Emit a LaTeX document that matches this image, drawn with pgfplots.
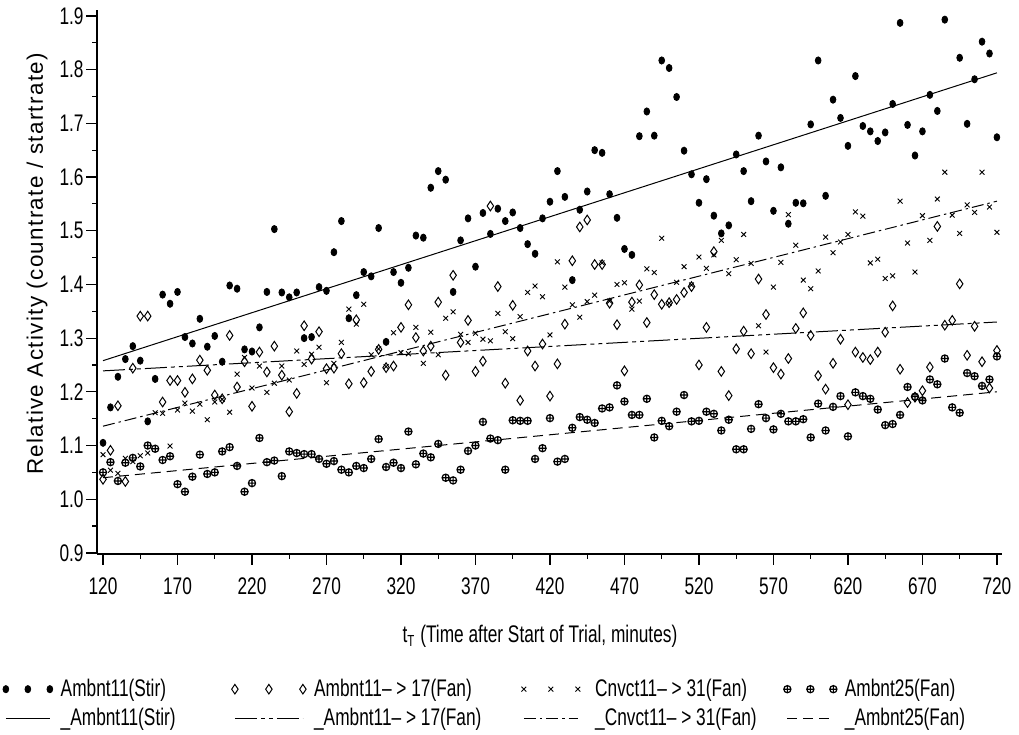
\documentclass[border=0pt]{standalone}
\usepackage{fontspec}
\setmainfont{Liberation Sans}[FakeStretch=0.72]
\newfontfamily\ylabfont{Liberation Sans}[LetterSpace=6]
\usepackage{pgfplots}
\pgfplotsset{compat=1.18}
\pgfplotsset{
  legmarks/.style={legend image code/.code={\draw[##1] plot[mark repeat=1] coordinates {(0pt,0pt) (#1/2,0pt) (#1,0pt)};}},
  legline/.style={legend image code/.code={\draw[##1] (0pt,0pt) -- (#1,0pt);}},
}
\begin{document}
\begin{tikzpicture}
\begin{axis}[
  scale only axis, width=452.5pt, height=272pt,
  xmin=115.97, xmax=723.4, ymin=0.898, ymax=1.911,
  axis lines=left, axis line style={-, line width=0.6pt},
  tick align=outside, tick style={black, line width=0.6pt},
  major tick length=5.5pt, minor tick length=2.5pt,
  xtick={120,170,...,720}, ytick={0.9,1,1.1,1.2,1.3,1.4,1.5,1.6,1.7,1.8,1.9},
  minor x tick num=1, minor y tick num=1,
  ticklabel style={font=\fontsize{12}{14}\selectfont},
  /pgf/number format/assume math mode=true,
  yticklabel style={/pgf/number format/.cd, fixed, fixed zerofill, precision=1, /tikz/.cd, inner xsep=1pt},
  xticklabel style={yshift=-3pt},
  xlabel={t\textsubscript{T} (Time after Start of Trial, minutes)},
  xlabel style={at={(rel axis cs:0.4895,-0.152)}, anchor=center, font=\fontsize{12}{14}\selectfont},
  ylabel={\ylabfont Relative Activity (countrate / startrate)},
  ylabel style={at={(rel axis cs:-0.0663,0.533)}, anchor=center, font=\fontsize{11.2}{13}\selectfont},
  legend columns=4,
  legend cell align=left,
  legend style={at={(rel axis cs:-0.1039,-0.2261)}, anchor=north west, draw=none, fill=none,
    inner sep=0pt, outer sep=0pt, font=\fontsize{12}{14}\selectfont,
    nodes={inner sep=1pt}, /tikz/row sep=2.5pt,
    /tikz/column 1/.style={column sep=3pt},
    /tikz/column 2/.style={column sep=27pt},
    /tikz/column 3/.style={column sep=3pt},
    /tikz/column 4/.style={column sep=19pt},
    /tikz/column 5/.style={column sep=6.5pt},
    /tikz/column 6/.style={column sep=12.5pt},
    /tikz/column 7/.style={column sep=3pt}},
]
% Ambnt11(Stir)
\addplot[only marks, mark=*, mark size=1.8pt, mark options={xscale=0.8, fill=black, draw=black}, legmarks=22pt] coordinates {
(120,1.105)(125,1.171)(130,1.228)(135,1.261)(140,1.285)(145,1.258)(150,1.145)(155,1.224)(160,1.381)(165,1.364)(170,1.386)(175,1.302)(180,1.290)(185,1.336)(190,1.284)(195,1.304)(200,1.256)(205,1.398)(210,1.392)(215,1.279)(220,1.275)(225,1.320)(230,1.386)(235,1.503)(240,1.385)(245,1.376)(250,1.385)(255,1.300)(260,1.302)(265,1.395)(270,1.388)(275,1.460)(280,1.518)(285,1.337)(290,1.380)(295,1.423)(300,1.415)(305,1.505)(310,1.293)(315,1.423)(320,1.403)(325,1.431)(330,1.491)(335,1.487)(340,1.580)(345,1.611)(350,1.595)(355,1.386)(360,1.482)(365,1.523)(370,1.433)(375,1.533)(380,1.494)(385,1.541)(390,1.518)(395,1.534)(400,1.505)(405,1.475)(410,1.457)(415,1.523)(420,1.554)(425,1.611)(430,1.563)(435,1.408)(440,1.539)(445,1.573)(450,1.650)(455,1.645)(460,1.568)(465,1.524)(470,1.466)(475,1.455)(480,1.676)(485,1.722)(490,1.677)(495,1.817)(500,1.803)(505,1.749)(510,1.649)(515,1.605)(520,1.552)(525,1.596)(530,1.528)(535,1.495)(540,1.510)(545,1.642)(550,1.611)(555,1.555)(560,1.677)(565,1.629)(570,1.537)(575,1.618)(580,1.513)(585,1.552)(590,1.551)(595,1.698)(600,1.817)(605,1.565)(610,1.744)(615,1.710)(620,1.658)(625,1.788)(630,1.695)(635,1.685)(640,1.667)(645,1.683)(650,1.736)(655,1.887)(660,1.697)(665,1.640)(670,1.685)(675,1.753)(680,1.723)(685,1.893)(695,1.822)(700,1.699)(705,1.782)(710,1.852)(715,1.830)(720,1.674)
};
\addlegendentry{Ambnt11(Stir)}
% Ambnt11->17(Fan)
\addplot[only marks, mark=diamond, mark size=2.4pt, mark options={line width=0.5pt, fill=white, draw=black, xscale=0.9}, legmarks=34pt] coordinates {
(120,1.037)(125,1.091)(130,1.174)(135,1.033)(140,1.244)(145,1.341)(150,1.341)(160,1.181)(165,1.221)(170,1.221)(175,1.199)(180,1.224)(185,1.259)(190,1.240)(195,1.194)(200,1.187)(205,1.305)(210,1.209)(215,1.256)(220,1.173)(225,1.274)(230,1.237)(235,1.285)(240,1.231)(245,1.163)(250,1.197)(255,1.323)(260,1.261)(265,1.312)(270,1.243)(275,1.244)(280,1.271)(285,1.215)(290,1.334)(295,1.217)(300,1.238)(305,1.279)(310,1.245)(315,1.248)(320,1.320)(325,1.362)(330,1.301)(335,1.276)(340,1.285)(345,1.367)(350,1.231)(355,1.417)(360,1.292)(365,1.333)(370,1.238)(375,1.257)(380,1.546)(385,1.396)(390,1.216)(395,1.361)(400,1.184)(405,1.276)(410,1.248)(415,1.289)(420,1.192)(425,1.252)(430,1.326)(435,1.444)(440,1.507)(445,1.520)(450,1.437)(455,1.437)(460,1.365)(465,1.325)(470,1.239)(475,1.367)(480,1.399)(485,1.329)(490,1.381)(495,1.363)(500,1.366)(505,1.372)(510,1.385)(515,1.396)(520,1.250)(525,1.320)(530,1.461)(535,1.238)(540,1.193)(545,1.280)(550,1.313)(555,1.271)(560,1.410)(565,1.344)(570,1.245)(575,1.233)(580,1.262)(585,1.318)(590,1.347)(595,1.305)(600,1.230)(605,1.205)(610,1.253)(615,1.298)(620,1.176)(625,1.274)(630,1.264)(635,1.260)(640,1.274)(645,1.311)(650,1.360)(655,1.242)(660,1.180)(665,1.190)(670,1.202)(675,1.246)(680,1.508)(685,1.324)(690,1.333)(695,1.401)(700,1.268)(705,1.322)(710,1.256)(715,1.207)(720,1.277)
};
\addlegendentry{Ambnt11– > 17(Fan)}
% Cnvct11->31(Fan)
\addplot[only marks, mark=x, mark size=1.7pt, mark options={line width=0.45pt, draw=black}, legmarks=27pt] coordinates {
(120,1.083)(125,1.054)(130,1.048)(135,1.076)(140,1.070)(145,1.081)(150,1.086)(155,1.161)(160,1.160)(165,1.099)(170,1.166)(175,1.179)(180,1.164)(185,1.177)(190,1.148)(195,1.181)(200,1.186)(205,1.162)(210,1.233)(215,1.264)(220,1.207)(225,1.248)(230,1.199)(235,1.216)(240,1.248)(245,1.222)(250,1.276)(255,1.251)(260,1.270)(265,1.283)(270,1.217)(275,1.253)(280,1.292)(285,1.354)(290,1.326)(295,1.363)(300,1.269)(305,1.280)(310,1.247)(315,1.310)(320,1.273)(325,1.271)(330,1.320)(335,1.253)(340,1.311)(345,1.269)(350,1.337)(355,1.349)(360,1.307)(365,1.292)(370,1.309)(375,1.298)(380,1.295)(385,1.346)(390,1.312)(395,1.299)(400,1.340)(405,1.385)(410,1.397)(415,1.377)(420,1.306)(425,1.442)(430,1.395)(435,1.362)(440,1.339)(445,1.368)(450,1.380)(455,1.440)(460,1.369)(465,1.400)(470,1.403)(475,1.354)(480,1.369)(485,1.429)(490,1.422)(495,1.486)(500,1.365)(505,1.404)(510,1.433)(515,1.399)(520,1.451)(525,1.430)(530,1.455)(535,1.482)(540,1.420)(545,1.446)(550,1.493)(555,1.439)(560,1.323)(565,1.274)(570,1.395)(575,1.441)(580,1.530)(585,1.473)(590,1.408)(595,1.392)(600,1.425)(605,1.488)(610,1.459)(615,1.479)(620,1.493)(625,1.535)(630,1.527)(635,1.440)(640,1.447)(645,1.411)(650,1.416)(655,1.555)(660,1.477)(665,1.423)(670,1.528)(675,1.482)(680,1.559)(685,1.609)(690,1.529)(695,1.495)(700,1.548)(705,1.534)(710,1.609)(715,1.544)(720,1.497)
};
\addlegendentry{Cnvct11– > 31(Fan)}
% Ambnt25(Fan)
\addplot[only marks, mark=oplus, mark size=1.8pt, mark options={line width=0.6pt, fill=white, draw=black}, legmarks=23pt] coordinates {
(120,1.050)(125,1.069)(130,1.034)(135,1.068)(140,1.077)(145,1.061)(150,1.100)(155,1.094)(160,1.073)(165,1.080)(170,1.028)(175,1.014)(180,1.042)(185,1.083)(190,1.047)(195,1.050)(200,1.089)(205,1.097)(210,1.062)(215,1.014)(220,1.030)(225,1.114)(230,1.069)(235,1.072)(240,1.043)(245,1.089)(250,1.086)(255,1.084)(260,1.084)(265,1.075)(270,1.066)(275,1.071)(280,1.055)(285,1.050)(290,1.062)(295,1.058)(300,1.075)(305,1.112)(310,1.060)(315,1.068)(320,1.058)(325,1.126)(330,1.065)(335,1.085)(340,1.078)(345,1.103)(350,1.040)(355,1.035)(360,1.055)(365,1.090)(370,1.100)(375,1.144)(380,1.113)(385,1.110)(390,1.055)(395,1.147)(400,1.146)(405,1.146)(410,1.075)(415,1.095)(420,1.151)(425,1.070)(430,1.075)(435,1.133)(440,1.153)(445,1.148)(450,1.142)(455,1.169)(460,1.171)(465,1.212)(470,1.182)(475,1.157)(480,1.157)(485,1.187)(490,1.115)(495,1.146)(500,1.136)(505,1.163)(510,1.194)(515,1.145)(520,1.146)(525,1.163)(530,1.159)(535,1.128)(540,1.148)(545,1.093)(550,1.093)(555,1.131)(560,1.177)(565,1.151)(570,1.130)(575,1.159)(580,1.145)(585,1.145)(590,1.149)(595,1.115)(600,1.178)(605,1.128)(610,1.172)(615,1.192)(620,1.117)(625,1.199)(630,1.192)(635,1.187)(640,1.167)(645,1.138)(650,1.140)(655,1.157)(660,1.209)(665,1.191)(670,1.184)(675,1.223)(680,1.214)(685,1.262)(690,1.171)(695,1.161)(700,1.235)(705,1.229)(710,1.211)(715,1.223)(720,1.266)
};
\addlegendentry{Ambnt25(Fan)}
% regression lines
\addplot[black, line width=0.5pt, legline=22pt] coordinates {(120,1.258)(720,1.794)};
\addlegendentry{\_Ambnt11(Stir)}
\addplot[black, line width=0.5pt, dash pattern=on 11pt off 2pt on 2pt off 2pt on 2pt off 2pt, legline=34pt] coordinates {(120,1.239)(720,1.330)};
\addlegendentry{\_Ambnt11– > 17(Fan)}
\addplot[black, line width=0.5pt, dash pattern=on 6pt off 2pt on 1.2pt off 2pt, legline=27pt] coordinates {(120,1.136)(720,1.555)};
\addlegendentry{\_Cnvct11– > 31(Fan)}
\addplot[black, line width=0.5pt, dash pattern=on 5pt off 3pt, legline=23pt] coordinates {(120,1.040)(720,1.200)};
\addlegendentry{\_Ambnt25(Fan)}
\coordinate (bbsw) at (rel axis cs:-0.1072,-0.3327);
\coordinate (bbne) at (rel axis cs:1.0188,1.0184);
\end{axis}
\pgfresetboundingbox
\path[use as bounding box] (bbsw) rectangle (bbne);
\end{tikzpicture}
\end{document}
